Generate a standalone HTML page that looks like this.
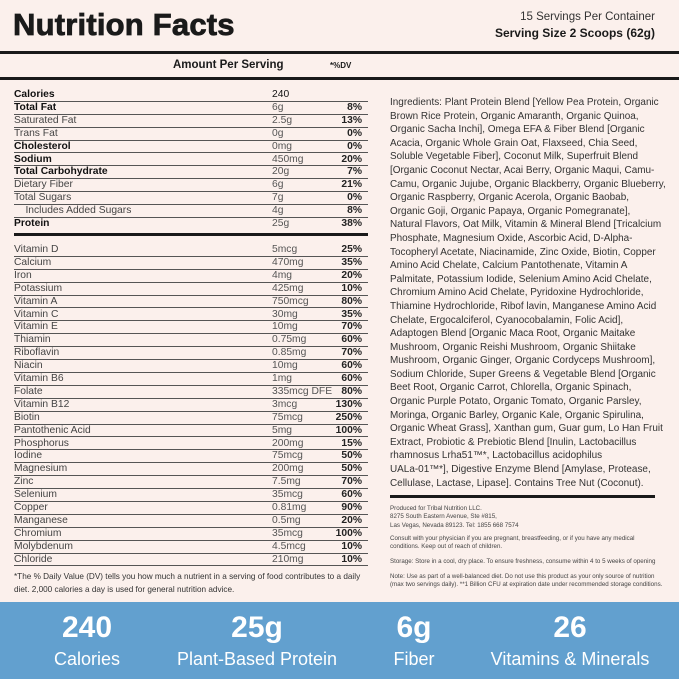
<!DOCTYPE html>
<html><head><meta charset="utf-8"><style>
*{margin:0;padding:0;box-sizing:border-box}
body{width:679px;height:679px;background:#fbf0ec;font-family:"Liberation Sans",Arial,sans-serif;position:relative;overflow:hidden;color:#222}
.abs{position:absolute;white-space:nowrap}
.thick{position:absolute;left:0;width:679px;height:3px;background:#1a1a1a}
.row{position:absolute;left:14px;width:354px;height:12.9px;border-bottom:1px solid #555;font-size:10.3px;line-height:12px;color:#444}
.row .a{position:absolute;left:258px;top:0}
.row .d{position:absolute;right:6px;top:0;color:#222;font-weight:bold}
.row.b{color:#111;font-weight:bold}
.row .a{font-weight:normal;color:#555}
.ing{position:absolute;left:390px;top:96px;font-size:9.95px;line-height:13.6px;color:#333;white-space:nowrap}
.small{position:absolute;left:390px;font-size:6.2px;line-height:8.4px;color:#444;white-space:nowrap}
.band{position:absolute;left:0;top:602px;width:679px;height:77px;background:#62a0cf;color:#fff;text-align:center}
.band div{position:absolute;transform:translateX(-50%);white-space:nowrap}
.n{top:9px;font-size:30px;font-weight:bold}
.l{top:47px;font-size:18px}
</style></head><body>
<div class="abs" style="left:13px;top:7px;font-size:31px;font-weight:900;letter-spacing:0.2px;color:#1a1a1a;-webkit-text-stroke:0.8px #1a1a1a">Nutrition Facts</div>
<div class="abs" style="right:24px;top:11px;font-size:11.5px;color:#333">15 Servings Per Container</div>
<div class="abs" style="right:24px;top:26px;font-size:12px;font-weight:bold;color:#1a1a1a">Serving Size 2 Scoops (62g)</div>
<div class="thick" style="top:51px"></div>
<div class="abs" style="left:173px;top:59px;font-size:11.5px;font-weight:bold;color:#1a1a1a">Amount Per Serving</div>
<div class="abs" style="left:330px;top:61px;font-size:8px;font-weight:bold;color:#1a1a1a">*%DV</div>
<div class="thick" style="top:77px"></div>

<div class="row b" style="top:89px">Calories<span class="a" style="color:#111">240</span></div>
<div class="row b" style="top:101.9px">Total Fat<span class="a">6g</span><span class="d">8%</span></div>
<div class="row" style="top:114.8px">Saturated Fat<span class="a">2.5g</span><span class="d">13%</span></div>
<div class="row" style="top:127.7px">Trans Fat<span class="a">0g</span><span class="d">0%</span></div>
<div class="row b" style="top:140.6px">Cholesterol<span class="a">0mg</span><span class="d">0%</span></div>
<div class="row b" style="top:153.5px">Sodium<span class="a">450mg</span><span class="d">20%</span></div>
<div class="row b" style="top:166.4px">Total Carbohydrate<span class="a">20g</span><span class="d">7%</span></div>
<div class="row" style="top:179.3px">Dietary Fiber<span class="a">6g</span><span class="d">21%</span></div>
<div class="row" style="top:192.2px">Total Sugars<span class="a">7g</span><span class="d">0%</span></div>
<div class="row" style="top:205.1px">&nbsp;&nbsp;&nbsp;&nbsp;Includes Added Sugars<span class="a">4g</span><span class="d">8%</span></div>
<div class="row b" style="top:218px;border-bottom:none">Protein<span class="a">25g</span><span class="d">38%</span></div>
<div style="position:absolute;left:14px;top:233px;width:354px;height:3px;background:#1a1a1a"></div>

<div class="row" style="top:244px">Vitamin D<span class="a">5mcg</span><span class="d">25%</span></div>
<div class="row" style="top:256.9px">Calcium<span class="a">470mg</span><span class="d">35%</span></div>
<div class="row" style="top:269.8px">Iron<span class="a">4mg</span><span class="d">20%</span></div>
<div class="row" style="top:282.7px">Potassium<span class="a">425mg</span><span class="d">10%</span></div>
<div class="row" style="top:295.6px">Vitamin A<span class="a">750mcg</span><span class="d">80%</span></div>
<div class="row" style="top:308.5px">Vitamin C<span class="a">30mg</span><span class="d">35%</span></div>
<div class="row" style="top:321.4px">Vitamin E<span class="a">10mg</span><span class="d">70%</span></div>
<div class="row" style="top:334.3px">Thiamin<span class="a">0.75mg</span><span class="d">60%</span></div>
<div class="row" style="top:347.2px">Riboflavin<span class="a">0.85mg</span><span class="d">70%</span></div>
<div class="row" style="top:360.1px">Niacin<span class="a">10mg</span><span class="d">60%</span></div>
<div class="row" style="top:373px">Vitamin B6<span class="a">1mg</span><span class="d">60%</span></div>
<div class="row" style="top:385.9px">Folate<span class="a">335mcg DFE</span><span class="d">80%</span></div>
<div class="row" style="top:398.8px">Vitamin B12<span class="a">3mcg</span><span class="d">130%</span></div>
<div class="row" style="top:411.7px">Biotin<span class="a">75mcg</span><span class="d">250%</span></div>
<div class="row" style="top:424.6px">Pantothenic Acid<span class="a">5mg</span><span class="d">100%</span></div>
<div class="row" style="top:437.5px">Phosphorus<span class="a">200mg</span><span class="d">15%</span></div>
<div class="row" style="top:450.4px">Iodine<span class="a">75mcg</span><span class="d">50%</span></div>
<div class="row" style="top:463.3px">Magnesium<span class="a">200mg</span><span class="d">50%</span></div>
<div class="row" style="top:476.2px">Zinc<span class="a">7.5mg</span><span class="d">70%</span></div>
<div class="row" style="top:489.1px">Selenium<span class="a">35mcg</span><span class="d">60%</span></div>
<div class="row" style="top:502px">Copper<span class="a">0.81mg</span><span class="d">90%</span></div>
<div class="row" style="top:514.9px">Manganese<span class="a">0.5mg</span><span class="d">20%</span></div>
<div class="row" style="top:527.8px">Chromium<span class="a">35mcg</span><span class="d">100%</span></div>
<div class="row" style="top:540.7px">Molybdenum<span class="a">4.5mcg</span><span class="d">10%</span></div>
<div class="row" style="top:553.6px">Chloride<span class="a">210mg</span><span class="d">10%</span></div>

<div class="abs" style="left:14px;top:571px;font-size:8.2px;line-height:12.5px;color:#333">*The % Daily Value (DV) tells you how much a nutrient in a serving of food contributes to a daily<br>diet. 2,000 calories a day is used for general nutrition advice.</div>

<div class="ing">Ingredients: Plant Protein Blend [Yellow Pea Protein, Organic<br>Brown Rice Protein, Organic Amaranth, Organic Quinoa,<br>Organic Sacha Inchi], Omega EFA &amp; Fiber Blend [Organic<br>Acacia, Organic Whole Grain Oat, Flaxseed, Chia Seed,<br>Soluble Vegetable Fiber], Coconut Milk, Superfruit Blend<br>[Organic Coconut Nectar, Acai Berry, Organic Maqui, Camu-<br>Camu, Organic Jujube, Organic Blackberry, Organic Blueberry,<br>Organic Raspberry, Organic Acerola, Organic Baobab,<br>Organic Goji, Organic Papaya, Organic Pomegranate],<br>Natural Flavors, Oat Milk, Vitamin &amp; Mineral Blend [Tricalcium<br>Phosphate, Magnesium Oxide, Ascorbic Acid, D-Alpha-<br>Tocopheryl Acetate, Niacinamide, Zinc Oxide, Biotin, Copper<br>Amino Acid Chelate, Calcium Pantothenate, Vitamin A<br>Palmitate, Potassium Iodide, Selenium Amino Acid Chelate,<br>Chromium Amino Acid Chelate, Pyridoxine Hydrochloride,<br>Thiamine Hydrochloride, Ribof lavin, Manganese Amino Acid<br>Chelate, Ergocalciferol, Cyanocobalamin, Folic Acid],<br>Adaptogen Blend [Organic Maca Root, Organic Maitake<br>Mushroom, Organic Reishi Mushroom, Organic Shiitake<br>Mushroom, Organic Ginger, Organic Cordyceps Mushroom],<br>Sodium Chloride, Super Greens &amp; Vegetable Blend [Organic<br>Beet Root, Organic Carrot, Chlorella, Organic Spinach,<br>Organic Purple Potato, Organic Tomato, Organic Parsley,<br>Moringa, Organic Barley, Organic Kale, Organic Spirulina,<br>Organic Wheat Grass], Xanthan gum, Guar gum, Lo Han Fruit<br>Extract, Probiotic &amp; Prebiotic Blend [Inulin, Lactobacillus<br>rhamnosus Lrha51™*, Lactobacillus acidophilus<br>UALa-01™*], Digestive Enzyme Blend [Amylase, Protease,<br>Cellulase, Lactase, Lipase]. Contains Tree Nut (Coconut).</div>
<div style="position:absolute;left:390px;top:495px;width:265px;height:2.5px;background:#1a1a1a"></div>
<div class="small" style="top:505px">Produced for Tribal Nutrition LLC.<br>8275 South Eastern Avenue, Ste #815,<br>Las Vegas, Nevada 89123. Tel: 1855 668 7574</div>
<div class="small" style="top:535px">Consult with your physician if you are pregnant, breastfeeding, or if you have any medical<br>conditions. Keep out of reach of children.</div>
<div class="small" style="top:558px">Storage: Store in a cool, dry place. To ensure freshness, consume within 4 to 5 weeks of opening</div>
<div class="small" style="top:573px">Note: Use as part of a well-balanced diet. Do not use this product as your only source of nutrition<br>(max two servings daily). **1 Billion CFU at expiration date under recommended storage conditions.</div>

<div class="band">
<div class="n" style="left:87px">240</div><div class="l" style="left:87px">Calories</div>
<div class="n" style="left:257px">25g</div><div class="l" style="left:257px">Plant-Based Protein</div>
<div class="n" style="left:414px">6g</div><div class="l" style="left:414px">Fiber</div>
<div class="n" style="left:570px">26</div><div class="l" style="left:570px">Vitamins &amp; Minerals</div>
</div>
</body></html>
